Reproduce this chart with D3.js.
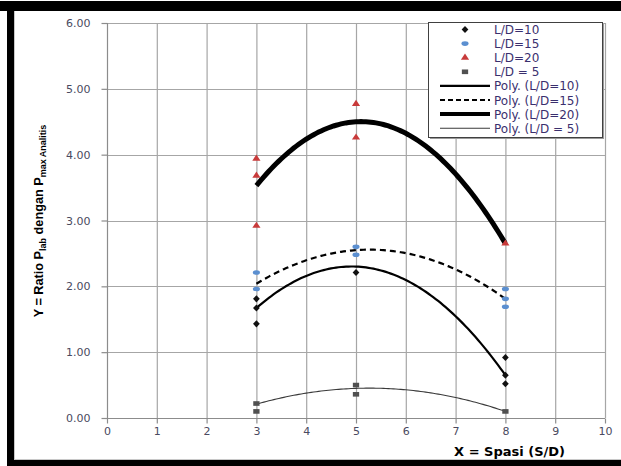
<!DOCTYPE html>
<html><head><meta charset="utf-8">
<script src="https://cdn.jsdelivr.net/npm/d3@7/dist/d3.min.js"></script>
<style>body{margin:0;background:#fff}svg{display:block}</style>
</head><body>
<svg id="c" width="621" height="466"></svg>
<script>
// ---- data ----
const xTicks = [0,1,2,3,4,5,6,7,8,9,10];
const yTicks = [0,1,2,3,4,5,6];
const seriesNames = ["L/D=10","L/D=15","L/D=20","L/D = 5"];
const trendNames = ["Poly. (L/D=10)","Poly. (L/D=15)","Poly. (L/D=20)","Poly. (L/D = 5)"];
const ptsLD10 = [[3,1.81],[3,1.67],[3,1.43],[5,2.21],[8,0.92],[8,0.65],[8,0.52]];
const ptsLD15 = [[3,2.21],[3,1.96],[5,2.60],[5,2.48],[8,1.96],[8,1.81],[8,1.69]];
const ptsLD20 = [[3,3.94],[3,3.68],[3,2.92],[5,4.77],[5,4.26],[8,2.65]];
const ptsLD5  = [[3,0.22],[3,0.10],[5,0.50],[5,0.36],[8,0.10]];
// trendline (2nd order poly) values read at x = 3, 5, 8
const trendX = [3,5,8];
const trendLD10 = [1.67,2.30,0.65];
const trendLD15 = [2.04,2.55,1.81];
const trendLD20 = [3.53,4.50,2.65];
const trendLD5  = [0.21,0.45,0.10];

const svg = d3.select("#c");
// frame
svg.append("rect").attr("x",0).attr("y",0).attr("width",621).attr("height",466).attr("fill","#fff");
svg.append("rect").attr("x",14.5).attr("y",10.5).attr("width",610).attr("height",449).attr("fill","none").attr("stroke","#c8c8c8");
svg.append("rect").attr("x",0).attr("y",1).attr("width",621).attr("height",10).attr("fill","#000");
svg.append("rect").attr("x",7).attr("y",1).attr("width",7).attr("height",465).attr("fill","#000");
svg.append("rect").attr("x",7).attr("y",460).attr("width",614).attr("height",6).attr("fill","#000");

const x = d3.scaleLinear().domain([0,10]).range([107,605]);
const y = d3.scaleLinear().domain([0,6]).range([418,23]);

const g = svg.append("g");
// grid
g.selectAll(".vg").data(xTicks.slice(1)).enter().append("line")
  .attr("x1",d=>x(d)+0.5).attr("x2",d=>x(d)+0.5).attr("y1",y(6)).attr("y2",y(0))
  .attr("stroke","#a6a6a6").attr("stroke-width",1.2);
g.selectAll(".hg").data(yTicks.slice(1)).enter().append("line")
  .attr("y1",d=>Math.round(y(d))+0.5).attr("y2",d=>Math.round(y(d))+0.5).attr("x1",x(0)).attr("x2",x(10))
  .attr("stroke","#a6a6a6").attr("stroke-width",1.2);

// axes
const xAxis = d3.axisBottom(x).tickValues(xTicks).tickFormat(d3.format("d")).tickSize(5).tickPadding(4);
const yAxis = d3.axisLeft(y).tickValues(yTicks).tickFormat(d3.format(".2f")).tickSize(6).tickPadding(11);
const gx = svg.append("g").attr("transform",`translate(0,${Math.round(y(0))+0.5})`).call(xAxis);
const gy = svg.append("g").attr("transform",`translate(${Math.round(x(0))+0.5},0)`).call(yAxis);
[gx,gy].forEach(a=>{
  a.selectAll("path,line").attr("stroke","#8c8c8c").attr("stroke-width",1.2);
  a.selectAll("text").attr("fill","#4a4a60").style("font-family","DejaVu Sans, Verdana, sans-serif").style("font-size","11px");
});
gx.select(".domain").attr("d",`M${x(0)},0H${x(10)}`);
gy.select(".domain").attr("d",`M0,${y(0)}V${y(6)}`);

// trend lines: quadratic through the three read values
function quad(xs, ys){
  return t => {
    let s=0;
    for(let i=0;i<3;i++){
      let p=ys[i];
      for(let j=0;j<3;j++) if(j!==i) p*= (t-xs[j])/(xs[i]-xs[j]);
      s+=p;
    }
    return s;
  };
}
const trendStyles = [
  {data:trendLD10, w:2.2, dash:null, color:"#000"},
  {data:trendLD15, w:2.2, dash:"6,4", color:"#000"},
  {data:trendLD20, w:5, dash:null, color:"#000"},
  {data:trendLD5, w:1.1, dash:null, color:"#3a3a3a"}
];
const line = d3.line().x(d=>x(d[0])).y(d=>y(d[1])).curve(d3.curveLinear);
trendStyles.forEach(s=>{
  const f = quad(trendX, s.data);
  const pts = d3.range(3, 8.0001, 0.05).map(t=>[t,f(t)]);
  svg.append("path").attr("d",line(pts)).attr("fill","none").attr("stroke",s.color)
    .attr("stroke-width",s.w).attr("stroke-dasharray",s.dash).attr("stroke-linecap","butt");
});

// markers
const sym = {
  diamond: d3.symbol().type(d3.symbolDiamond).size(20),
  circle: d3.symbol().type(d3.symbolCircle).size(30),
  triangle: d3.symbol().type(d3.symbolTriangle).size(22),
  square: d3.symbol().type(d3.symbolSquare).size(30)
};
const mk = [
  {data:ptsLD10, s:"diamond", c:"#111", sx:1.4, sy:0.85},
  {data:ptsLD15, s:"circle", c:"#5b8fd0", sx:1.15, sy:0.75},
  {data:ptsLD20, s:"triangle", c:"#c83a3a", sx:1.15, sy:1},
  {data:ptsLD5, s:"square", c:"#505050", sx:1.15, sy:0.85}
];
mk.forEach(m=>{
  svg.append("g").selectAll("path").data(m.data).enter().append("path")
    .attr("d",sym[m.s]()).attr("fill",m.c)
    .attr("transform",d=>`translate(${x(d[0])},${y(d[1])}) scale(${m.sx},${m.sy})`);
});

// legend
const L = svg.append("g");
L.append("rect").attr("x",430).attr("y",24).attr("width",174).attr("height",115).attr("fill","#9a9a9a");
L.append("rect").attr("x",428.5).attr("y",22.5).attr("width",174).attr("height",115).attr("fill","#fff").attr("stroke","#404040");
const rowY = i => 29.5 + i*14.1;
const legFont = "DejaVu Sans, Verdana, sans-serif";
seriesNames.forEach((n,i)=>{
  const m = mk[i];
  L.append("path").attr("d",sym[m.s]()).attr("fill",m.c)
    .attr("transform",`translate(465,${rowY(i)}) scale(${m.sx},${m.sy})`);
  L.append("text").attr("x",494).attr("y",rowY(i)+4.5).text(n)
    .attr("fill","#3a2f6e").style("font-family",legFont).style("font-size","12px");
});
trendNames.forEach((n,i)=>{
  const s = trendStyles[i];
  const yy = rowY(i+4);
  L.append("line").attr("x1",440).attr("x2",490).attr("y1",yy).attr("y2",yy)
    .attr("stroke",s.color).attr("stroke-width",s.w===5?4:s.w).attr("stroke-dasharray",s.dash?"5,3":null);
  L.append("text").attr("x",494).attr("y",yy+4.5).text(n)
    .attr("fill","#3a2f6e").style("font-family",legFont).style("font-size","12px");
});

// axis titles
svg.append("text").attr("x",565).attr("y",456).attr("text-anchor","end")
  .style("font-family",legFont).style("font-size","13px").style("font-weight","bold")
  .attr("fill","#000").text("X = Spasi (S/D)");
const yt = svg.append("text").attr("transform","translate(43,221) rotate(-90)").attr("text-anchor","middle")
  .style("font-family","Liberation Sans Narrow, Arial Narrow, Liberation Sans, sans-serif").style("font-size","12.7px").style("font-weight","bold").attr("fill","#000");
yt.append("tspan").text("Y = Ratio P");
yt.append("tspan").attr("dy",3).style("font-size","9px").text("lab");
yt.append("tspan").attr("dy",-3).text(" dengan P");
yt.append("tspan").attr("dy",3).style("font-size","9px").text("max Analitis");
</script>
</body></html>
